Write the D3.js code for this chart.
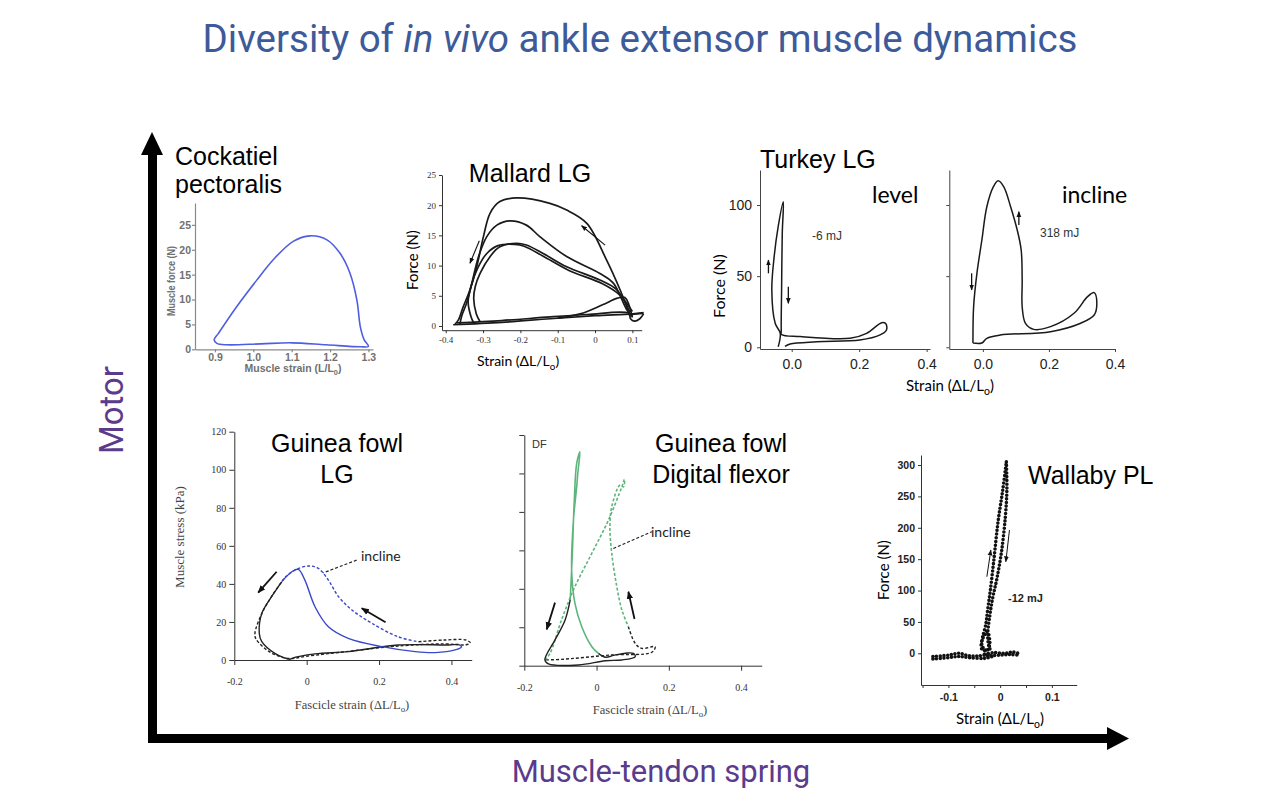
<!DOCTYPE html>
<html>
<head>
<meta charset="utf-8">
<script src="https://cdn.jsdelivr.net/npm/d3@7"></script>
<style>
body { margin: 0; background: #fff; }
</style>
</head>
<body>
<div id="fig"></div>
<script>
// ---- data (strain, force / stress) ----
var cockatielLoop = [[1.30,0.6],[1.28,0.5],[1.19,0.9],[1.10,1.3],[1.02,1.1],[0.93,0.9],[0.905,1.2],[0.898,1.9],
  [0.909,3.2],[0.957,8.6],[1.009,13.9],[1.052,18],[1.104,21.7],[1.148,22.8],[1.192,22],[1.226,19.3],
  [1.252,15.3],[1.27,9.9],[1.279,4.5],[1.289,1.9]];

var mallardA = [[0.13,2.1],[0.1,1.9],[0.094,1.7],[0.085,3.2],[0.067,6],[0.031,10.9],[-0.022,17],[-0.076,19.2],
  [-0.121,20.3],[-0.21,21.2],[-0.255,20.6],[-0.281,18.7],[-0.299,14.8],[-0.317,9.8],[-0.335,6],[-0.353,3.2],
  [-0.366,1],[-0.375,0.3]];
var mallardB = [[0.1,1.6],[0.085,2.7],[0.049,7.1],[0.013,8.7],[-0.076,11.5],[-0.148,14.8],[-0.184,16.7],
  [-0.228,17.4],[-0.263,16.7],[-0.29,14.8],[-0.312,11.5],[-0.33,7.1],[-0.344,3.8],[-0.357,1.7],[-0.362,0.3]];
var mallardC = [[0.094,2.2],[0.058,6],[0.013,7.6],[-0.076,9.8],[-0.139,12],[-0.184,13.4],[-0.21,13.7],
  [-0.255,13.1],[-0.281,11.5],[-0.308,8.7],[-0.321,6.5],[-0.325,4.5],[-0.318,2],[-0.308,0.7]];
var mallardD = [[0.1,2.4],[0.065,5.2],[0.02,7],[-0.07,9.2],[-0.14,11.6],[-0.19,13.2],[-0.215,13.5],[-0.26,13.3],
  [-0.29,12],[-0.315,9.5],[-0.33,7],[-0.34,4],[-0.332,1.5],[-0.325,0.5]];
var mallardBase1 = [[-0.38,0.2],[-0.25,0.6],[-0.12,1.2],[0,1.7],[0.1,2.0],[0.13,2.2]];
var mallardBase2 = [[-0.37,0.5],[-0.25,0.9],[-0.12,1.5],[-0.02,1.9],[0.09,2.1],[0.095,1.2],[0.105,0.8],[0.12,1.2],[0.13,2]];
var mallardBump = [[-0.1,1.3],[-0.04,2.0],[0.02,3.5],[0.06,4.6],[0.08,4.7],[0.1,1.4]];
var mallardArrows = [[[0.027,13.4],[-0.036,16.6]], [[-0.31,14.1],[-0.335,10.4]]];

var turkeyLevel = [[-0.04,0.4],[-0.034,9.8],[-0.049,16.9],[-0.059,40.3],[-0.052,63.7],[-0.04,85],[-0.025,102.3],
  [-0.028,80],[-0.03,40],[-0.031,12],[-0.03,9],[0.025,7.5],[0.173,6.3],[0.222,9.8],[0.267,17.3],[0.279,16.6],
  [0.281,12.2],[0.262,8.7],[0.202,5.1],[0.074,3.9],[-0.005,2.3],[-0.02,0.6]];
var turkeyIncline = [[-0.03,3],[-0.028,28.6],[-0.018,52],[-0.003,75.4],[0.012,98.8],[0.032,112.9],[0.046,117],
  [0.063,112.9],[0.084,98.8],[0.104,82.4],[0.116,68.4],[0.119,47.3],[0.119,28.5],[0.129,16.8],[0.154,12.6],
  [0.205,14.5],[0.276,23.9],[0.317,35.6],[0.337,38.4],[0.345,31],[0.337,22.7],[0.296,16.9],[0.205,11],
  [0.053,8.6],[0.012,6.3],[-0.003,3],[-0.03,3]];
var turkeyLevelArrows = [[[-0.069,52],[-0.069,61.3]], [[-0.01,42.6],[-0.01,30.9]]];
var turkeyInclineArrows = [[[0.109,85.9],[0.109,95.3]], [[-0.034,52],[-0.034,40.3]]];

var gfLevelBlue = [[-0.069,41.1],[-0.041,46.4],[-0.023,47.6],[-0.005,42],[0.023,28],[0.06,17.5],[0.115,11.4],
  [0.208,7],[0.3,4.4],[0.355,3.9],[0.41,5.3],[0.428,6.9],[0.42,8.2]];
var gfLevelBlack = [[0.42,8.2],[0.392,7.9],[0.253,7.9],[0.115,4.4],[0.023,3.2],[-0.041,0.9],[-0.046,0.4],
  [-0.088,3.5],[-0.124,9.6],[-0.131,14],[-0.124,24.5],[-0.097,33.3],[-0.069,41.1]];
var gfInclineBlue = [[-0.06,43.5],[-0.03,47.5],[0.005,49.4],[0.032,48.2],[0.06,42],[0.088,33.3],[0.125,26.3],
  [0.18,19.3],[0.253,12.2],[0.309,9.6]];
var gfInclineBlack = [[0.309,9.6],[0.38,10.5],[0.44,10.5],[0.452,9],[0.44,8],[0.38,8.5],[0.25,7.3],[0.1,4.2],
  [0,2],[-0.05,0.8],[-0.1,4],[-0.14,11],[-0.143,14],[-0.125,24],[-0.095,34],[-0.06,43.5]];
var gfArrows = [[[-0.083,46.4],[-0.134,35.4]], [[0.218,19.8],[0.152,27.2]]];
var gfLeader = [[0.138,52.5],[0.046,45.8]];

var dfLevelGreen = [[-0.073,34.2],[-0.067,58.5],[-0.062,84.5],[-0.055,105.3],[-0.046,111.3],[-0.052,100],
  [-0.055,93.1],[-0.064,75.8],[-0.069,49.8],[-0.06,32.5],[-0.041,20.3],[-0.013,9.9],[0.005,6.4]];
var dfLevelBlack = [[0.005,6.4],[0.024,4.4],[0.05,5.5],[0.08,6.5],[0.102,6.4],[0.107,4.7],[0.07,3],[0.024,2.6],
  [-0.05,0.4],[-0.133,0.9],[-0.143,3],[-0.115,13.4],[-0.087,23.8],[-0.073,34.2]];
var dfInclineGreen = [[-0.143,3],[-0.129,6.4],[-0.097,23.8],[-0.06,41.1],[-0.013,58.5],[0.033,75.8],[0.07,93.1],
  [0.077,97],[0.075,93],[0.065,94],[0.042,82.7],[0.037,72.3],[0.042,58.5],[0.056,41.1],[0.07,29],[0.088,20.3]];
var dfInclineBlack = [[0.088,20.3],[0.107,11.6],[0.125,9],[0.162,9.9],[0.153,7],[0.042,5.6],[-0.097,3.3],[-0.143,3]];
var dfArrows = [[[-0.115,32.8],[-0.138,18.9]], [[0.105,24.3],[0.088,38.5]]];
var dfLeader = [[0.0465,61],[0.153,69.7]];

var wallabyUp = [[-0.028,5],[-0.035,12],[-0.034,25],[-0.028,45],[-0.024,70],[-0.019,100],[-0.012,150],
  [-0.004,210],[0.005,260],[0.012,305]];
var wallabyDown = [[0.012,305],[0.013,260],[0.01,217],[0.003,164],[-0.006,120],[-0.014,90],[-0.02,60],
  [-0.024,30],[-0.022,12],[-0.018,4]];
var wallabyLoop = [[-0.026,35],[-0.036,18],[-0.035,6],[-0.025,5],[-0.02,15],[-0.022,30]];
var wallabyBaseA = [[-0.13,-9],[-0.1,-7],[-0.08,-5],[-0.06,-7],[-0.03,-8],[-0.015,-5]];
var wallabyBaseB = [[-0.13,-5],[-0.1,-3],[-0.08,0],[-0.06,-4],[-0.04,-4],[-0.02,-1]];
var wallabyBaseC = [[-0.03,-1],[-0.01,1],[0.01,0],[0.025,2],[0.038,-1]];
var wallabyBaseD = [[-0.025,-4],[0,-3],[0.02,-2],[0.038,-3]];
var wallabyArrows = [[[-0.0257,122],[-0.018,164.5]], [[0.018,196.4],[0.011,145.9]]];

var W = 1280, H = 800;
var svg = d3.select("#fig").append("svg").attr("width", W).attr("height", H);

var defs = svg.append("defs");
defs.append("marker").attr("id", "head").attr("viewBox", "0 0 10 10")
    .attr("refX", 9).attr("refY", 5).attr("markerWidth", 8).attr("markerHeight", 8)
    .attr("markerUnits", "userSpaceOnUse").attr("orient", "auto")
    .append("path").attr("d", "M0,1 L10,5 L0,9 z").attr("fill", "#111");
defs.append("marker").attr("id", "headSmall").attr("viewBox", "0 0 10 10")
    .attr("refX", 9).attr("refY", 5).attr("markerWidth", 6).attr("markerHeight", 6)
    .attr("markerUnits", "userSpaceOnUse").attr("orient", "auto")
    .append("path").attr("d", "M0,1 L10,5 L0,9 z").attr("fill", "#111");

// plain hyphen minus, like the scanned figures
function fmt1(d) { return d.toFixed(1); }
function fmt0(d) { return d === 0 ? "0" : d.toFixed(1); }

function makePanel(o) {
    var x = d3.scaleLinear().domain(o.xDomain).range(o.xRange);
    var y = d3.scaleLinear().domain(o.yDomain).range(o.yRange);
    var g = svg.append("g");
    var xAxis = d3.axisBottom(x).tickValues(o.xTicks).tickFormat(o.xFormat)
        .tickSize(o.tickSize).tickSizeOuter(0).tickPadding(o.xPad);
    var yAxis = d3.axisLeft(y).tickValues(o.yTicks).tickFormat(o.yFormat)
        .tickSize(o.tickSize).tickSizeOuter(0).tickPadding(o.yPad);
    var gx = g.append("g").attr("transform", "translate(0," + o.yRange[0] + ")").call(xAxis);
    var gy = g.append("g").attr("transform", "translate(" + o.xRange[0] + ",0)").call(yAxis);
    [gx, gy].forEach(function (a) {
        a.select(".domain").attr("stroke", o.axisColor).attr("stroke-width", o.axisWidth);
        a.selectAll(".tick line").attr("stroke", o.axisColor).attr("stroke-width", o.axisWidth);
        a.selectAll(".tick text").attr("fill", o.textColor)
            .style("font-family", o.font).style("font-size", o.fontSize + "px")
            .style("font-weight", o.bold ? "bold" : "normal");
    });
    return { g: g, x: x, y: y };
}

function curve(p, pts, color, width, dash, closed) {
    var line = d3.line()
        .x(function (d) { return p.x(d[0]); })
        .y(function (d) { return p.y(d[1]); })
        .curve(closed ? d3.curveCatmullRomClosed.alpha(0.5) : d3.curveCatmullRom.alpha(0.5));
    p.g.append("path").attr("d", line(pts))
        .attr("fill", "none").attr("stroke", color).attr("stroke-width", width)
        .attr("stroke-dasharray", dash || null).attr("stroke-linejoin", "round");
}

function dotted(p, pts) {
    var line = d3.line()
        .x(function (d) { return p.x(d[0]); })
        .y(function (d) { return p.y(d[1]); })
        .curve(d3.curveCatmullRom.alpha(0.5));
    p.g.append("path").attr("d", line(pts))
        .attr("fill", "none").attr("stroke", "#111").attr("stroke-width", 3.6)
        .attr("stroke-linecap", "round").attr("stroke-dasharray", "0 3.7");
}

function arrows(p, list, marker, width) {
    p.g.selectAll(null).data(list).enter().append("line")
        .attr("x1", function (d) { return p.x(d[0][0]); })
        .attr("y1", function (d) { return p.y(d[0][1]); })
        .attr("x2", function (d) { return p.x(d[1][0]); })
        .attr("y2", function (d) { return p.y(d[1][1]); })
        .attr("stroke", "#111").attr("stroke-width", width)
        .attr("marker-end", "url(#" + marker + ")");
}

function label(txt, x, y, size, family, opts) {
    opts = opts || {};
    var t = svg.append("text").attr("x", x).attr("y", y)
        .attr("text-anchor", opts.anchor || "start")
        .attr("fill", opts.color || "#000")
        .style("font-family", family).style("font-size", size + "px")
        .style("font-weight", opts.weight || "normal");
    if (opts.rotate) t.attr("transform", "rotate(-90," + x + "," + y + ")");
    if (opts.fit) t.attr("textLength", opts.fit).attr("lengthAdjust", "spacingAndGlyphs");
    if (opts.sub) {
        t.append("tspan").text(txt);
        t.append("tspan").attr("dy", size * 0.25).style("font-size", (size * 0.7) + "px").text(opts.sub);
        t.append("tspan").attr("dy", -size * 0.25).text(opts.after || "");
    } else {
        t.text(txt);
    }
    return t;
}

// ---- Cockatiel pectoralis ----
var cock = makePanel({
    xDomain: [0.848, 1.312], xRange: [195, 373], yDomain: [0, 29.4], yRange: [349.3, 203],
    xTicks: [0.9, 1.0, 1.1, 1.2, 1.3], yTicks: [0, 5, 10, 15, 20, 25],
    xFormat: fmt1, yFormat: d3.format("d"), tickSize: 3, xPad: 1, yPad: 1,
    axisColor: "#8a8a8a", axisWidth: 1.2, textColor: "#707070",
    font: "'Liberation Sans', Arial, sans-serif", fontSize: 10.5, bold: true
});
curve(cock, cockatielLoop, "#4f5ee0", 1.6, null, true);
label("Muscle force (N)", 175, 281, 11, "'Liberation Sans', Arial, sans-serif", { anchor: "middle", rotate: true, color: "#707070", weight: "bold", fit: 70 });
label("Muscle strain (L/L", 293, 372, 10.5, "'Liberation Sans', Arial, sans-serif", { anchor: "middle", color: "#707070", weight: "bold", sub: "0", after: ")" });

// ---- Mallard LG ----
var mall = makePanel({
    xDomain: [-0.41, 0.125], xRange: [442, 641.7], yDomain: [-0.7, 25], yRange: [330.2, 175],
    xTicks: [-0.4, -0.3, -0.2, -0.1, 0, 0.1], yTicks: [0, 5, 10, 15, 20, 25],
    xFormat: fmt0, yFormat: d3.format("d"), tickSize: 3, xPad: 3, yPad: 3,
    axisColor: "#333", axisWidth: 1, textColor: "#333",
    font: "'Liberation Serif', serif", fontSize: 9, bold: false
});
[mallardBase1, mallardBase2, mallardBump, mallardA, mallardB, mallardC, mallardD].forEach(function (c) {
    curve(mall, c, "#1a1a1a", 1.7);
});
arrows(mall, mallardArrows, "headSmall", 1.1);
label("Force (N)", 418, 260, 15, "Lato, sans-serif", { anchor: "middle", rotate: true });
label("Strain (ΔL/L", 518, 366, 14, "Lato, sans-serif", { anchor: "middle", sub: "o", after: ")" });

// ---- Turkey LG level / incline ----
var tkStyle = {
    yDomain: [-1.2, 124.6], yRange: [349, 170], yTicks: [0, 50, 100],
    xTicks: [0, 0.2, 0.4], xFormat: fmt1, tickSize: 3, xPad: 7, yPad: 5,
    axisColor: "#444", axisWidth: 1, textColor: "#222",
    font: "'Liberation Sans', Arial, sans-serif", fontSize: 14, bold: false
};
var tkL = makePanel(Object.assign({}, tkStyle, { xDomain: [-0.094, 0.41], xRange: [760, 930], yFormat: d3.format("d") }));
var tkI = makePanel(Object.assign({}, tkStyle, { xDomain: [-0.1016, 0.4], xRange: [949.3, 1115], yFormat: function () { return ""; } }));
curve(tkL, turkeyLevel, "#1a1a1a", 1.5);
curve(tkI, turkeyIncline, "#1a1a1a", 1.5);
arrows(tkL, turkeyLevelArrows, "headSmall", 1.3);
arrows(tkI, turkeyInclineArrows, "headSmall", 1.3);
label("-6 mJ", 812, 240, 12, "'Liberation Sans', Arial, sans-serif", { color: "#333" });
label("318 mJ", 1040, 237, 12, "'Liberation Sans', Arial, sans-serif", { color: "#333" });
label("Force (N)", 725, 286, 16, "Lato, sans-serif", { anchor: "middle", rotate: true });
label("Strain (ΔL/L", 950, 391, 15, "Lato, sans-serif", { anchor: "middle", sub: "o", after: ")" });

// ---- Guinea fowl LG ----
var gf = makePanel({
    xDomain: [-0.2, 0.456], xRange: [234.3, 471.7], yDomain: [0, 120], yRange: [660, 431.7],
    xTicks: [-0.2, 0, 0.2, 0.4], yTicks: [0, 20, 40, 60, 80, 100, 120],
    xFormat: fmt0, yFormat: d3.format("d"), tickSize: 5, xPad: 13, yPad: 3,
    axisColor: "#333", axisWidth: 1, textColor: "#333",
    font: "'Liberation Serif', serif", fontSize: 10, bold: false
});
curve(gf, gfInclineBlack, "#222", 1.4, "3,2");
curve(gf, gfInclineBlue, "#3a47c8", 1.4, "3,2");
curve(gf, gfLevelBlack, "#222", 1.4);
curve(gf, gfLevelBlue, "#3a47c8", 1.4);
curve(gf, gfLeader, "#222", 1.2, "3,2");
arrows(gf, gfArrows, "head", 1.8);
label("incline", 361, 561, 14, "Lato, sans-serif", { color: "#222" });
label("Muscle stress (kPa)", 184, 537, 13, "'Liberation Serif', serif", { anchor: "middle", rotate: true, color: "#444" });
label("Fascicle strain (ΔL/L", 352, 709, 12.5, "'Liberation Serif', serif", { anchor: "middle", color: "#444", sub: "o", after: ")" });

// ---- Guinea fowl digital flexor ----
var df = makePanel({
    xDomain: [-0.2, 0.457], xRange: [524.3, 761.7], yDomain: [0, 120], yRange: [665.7, 435],
    xTicks: [-0.2, 0, 0.2, 0.4], yTicks: [0, 20, 40, 60, 80, 100, 120],
    xFormat: fmt0, yFormat: function () { return ""; }, tickSize: 5, xPad: 13, yPad: 3,
    axisColor: "#333", axisWidth: 1, textColor: "#333",
    font: "'Liberation Serif', serif", fontSize: 10, bold: false
});
curve(df, dfInclineBlack, "#222", 1.4, "3,2");
curve(df, dfInclineGreen, "#5db57c", 1.6, "3,2");
curve(df, dfLevelBlack, "#222", 1.4);
curve(df, dfLevelGreen, "#5db57c", 1.6);
curve(df, dfLeader, "#222", 1.2, "3,2");
arrows(df, dfArrows, "head", 1.8);
label("DF", 532, 448, 11, "'Liberation Sans', Arial, sans-serif", { color: "#333" });
label("incline", 651, 537, 14, "Lato, sans-serif", { color: "#222" });
label("Fascicle strain (ΔL/L", 650, 714, 12.5, "'Liberation Serif', serif", { anchor: "middle", color: "#444", sub: "o", after: ")" });

// ---- Wallaby PL ----
var wal = makePanel({
    xDomain: [-0.153, 0.148], xRange: [921, 1076.7], yDomain: [-50.5, 316], yRange: [685, 455],
    xTicks: [-0.15, -0.1, -0.05, 0, 0.05, 0.1], yTicks: [0, 50, 100, 150, 200, 250, 300],
    xFormat: function (d) { return [-0.1, 0, 0.1].indexOf(d) >= 0 ? fmt0(d) : ""; },
    yFormat: d3.format("d"), tickSize: 3, xPad: 6, yPad: 3,
    axisColor: "#333", axisWidth: 1, textColor: "#222",
    font: "'Liberation Sans', Arial, sans-serif", fontSize: 10.5, bold: true
});
[wallabyBaseA, wallabyBaseB, wallabyBaseC, wallabyBaseD, wallabyLoop, wallabyUp, wallabyDown].forEach(function (c) { dotted(wal, c); });
arrows(wal, wallabyArrows, "headSmall", 1);
label("-12 mJ", 1008, 602, 11, "'Liberation Sans Narrow', sans-serif", { weight: "bold", color: "#222" });
label("Force (N)", 889, 570, 15, "Lato, sans-serif", { anchor: "middle", rotate: true });
label("Strain (ΔL/L", 1000, 724, 15, "Lato, sans-serif", { anchor: "middle", sub: "o", after: ")" });

// ---- panel titles ----
var titleFont = "'Liberation Sans', Arial, sans-serif";
label("Cockatiel", 175, 165, 25, titleFont);
label("pectoralis", 175, 193, 25, titleFont);
label("Mallard LG", 530, 182, 25, titleFont, { anchor: "middle" });
label("Turkey LG", 760, 168, 25, titleFont);
label("level", 872, 203, 23, "Lato, sans-serif");
label("incline", 1062, 203, 23, "Lato, sans-serif");
label("Guinea fowl", 337, 452, 25, titleFont, { anchor: "middle" });
label("LG", 337, 483, 25, titleFont, { anchor: "middle" });
label("Guinea fowl", 721, 452, 25, titleFont, { anchor: "middle" });
label("Digital flexor", 721, 483, 25, titleFont, { anchor: "middle" });
label("Wallaby PL", 1028, 484, 25, titleFont);

// ---- big framing arrows ----
svg.append("rect").attr("x", 148).attr("y", 152).attr("width", 9).attr("height", 591).attr("fill", "#000");
svg.append("path").attr("d", "M141,155 L163,155 L152,132 Z").attr("fill", "#000");
svg.append("rect").attr("x", 148).attr("y", 734).attr("width", 962).attr("height", 9).attr("fill", "#000");
svg.append("path").attr("d", "M1107,727 L1107,750 L1129,738.5 Z").attr("fill", "#000");

// ---- title and axis words ----
var t = svg.append("text").attr("x", 640).attr("y", 52).attr("text-anchor", "middle")
    .attr("fill", "#3d5a99").style("font-family", "Roboto, sans-serif").style("font-size", "38.5px");
t.append("tspan").text("Diversity of ");
t.append("tspan").style("font-style", "italic").text("in vivo");
t.append("tspan").text(" ankle extensor muscle dynamics");
label("Motor", 123, 410, 33, "Roboto, sans-serif", { anchor: "middle", rotate: true, color: "#5b3b8c" });
label("Muscle-tendon spring", 661, 782, 31, "Roboto, sans-serif", { anchor: "middle", color: "#5b3b8c" });
</script>
</body>
</html>
